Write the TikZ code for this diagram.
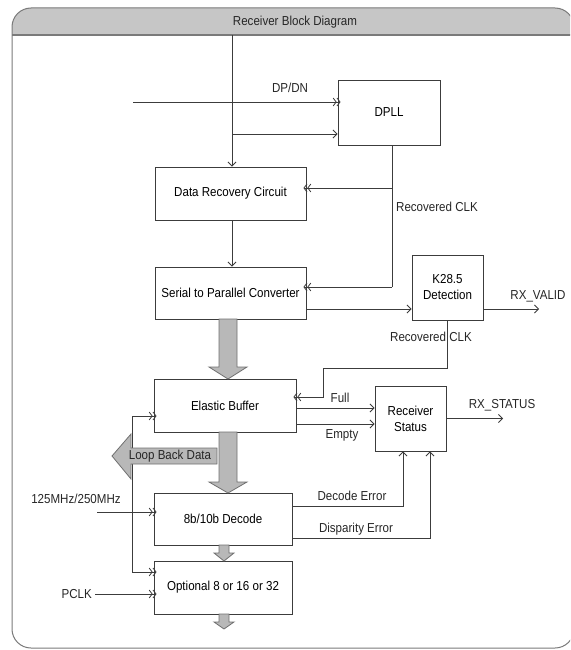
\documentclass[tikz,border=0pt]{standalone}
\usepackage{fontspec}
\setmainfont{Liberation Sans}[FakeStretch=0.89]
\usetikzlibrary{arrows.meta}

\definecolor{linegray}{HTML}{3C3C3C}
\definecolor{fatfill}{HTML}{B8B8B8}
\definecolor{fatline}{HTML}{707070}
\definecolor{hdrfill}{HTML}{C6C6C6}
\definecolor{framegray}{HTML}{7A7A7A}

\tikzset{
  blk/.style={draw=linegray, line width=0.9pt, fill=white, inner sep=0pt,
    align=center, font=\fontsize{13}{16}\selectfont},
  lbl/.style={inner sep=0pt, text=black!85, font=\fontsize{13}{16}\selectfont},
  wire/.style={draw=linegray, line width=0.8pt},
  sarrow/.style={-{Straight Barb[length=4pt,width=8pt]}},
  darrow/.style={-{Straight Barb[length=3pt,width=8pt] Straight Barb[length=3pt,width=8pt]},
    shorten >=-3pt},
  fat/.style={fill=fatfill, draw=fatline, line width=0.8pt},
}

% grey block arrow pointing down: x, top, head base, tip, half shaft, half head
\newcommand{\fatdown}[6]{%
  \draw[fat] ({#1-#5},#2) -- ({#1+#5},#2) -- ({#1+#5},#3) -- ({#1+#6},#3)
    -- (#1,#4) -- ({#1-#6},#3) -- ({#1-#5},#3) -- cycle;}

\begin{document}
\begin{tikzpicture}[x=1pt, y=-1pt]
  \clip (0,0) rectangle (570,650);

  % frame and header
  \fill[hdrfill] (12,35) [rounded corners=19pt] -- (12,8) -- (574,8)
    [sharp corners] -- (574,35) -- cycle;
  \draw[framegray, line width=1pt, rounded corners=19pt] (12,8) rectangle (574,648);
  \draw[framegray, line width=1.2pt] (12,35) -- (574,35);
  \node[lbl] (title) at (295,22) {Receiver Block Diagram};

  % blocks
  \node[blk, minimum width=102pt, minimum height=65pt] (dpll) at (389,112.5) {DPLL};
  \node[blk, minimum width=151pt, minimum height=53pt] (drc) at (230.5,193.5) {Data Recovery Circuit};
  \node[blk, minimum width=151pt, minimum height=52pt] (spc) at (230.5,293) {Serial to Parallel Converter};
  \node[blk, minimum width=71pt, minimum height=65pt] (k28) at (447.5,287.5) {K28.5\\Detection};
  \node[blk, minimum width=142pt, minimum height=53pt] (eb) at (225,405.5) {Elastic Buffer};
  \node[blk, minimum width=71pt, minimum height=65pt] (rs) at (410.5,418.5) {Receiver\\Status};
  \node[blk, minimum width=138pt, minimum height=52pt] (dec) at (223,519) {8b/10b Decode};
  \node[blk, minimum width=138pt, minimum height=53pt] (opt) at (223,587.5) {Optional 8 or 16 or 32};

  % input and DPLL
  \coordinate (topin) at (232,35);
  \draw[wire, sarrow] (topin) -- (topin |- drc.north);
  \coordinate (dpin) at (133,102);
  \draw[wire, darrow] (dpin) -- (dpin -| dpll.west);
  \node[lbl] (dpdn) at (290,88) {DP/DN};
  \coordinate (tap) at (232,134);
  \draw[wire, sarrow] (tap) -- (tap -| dpll.west);

  % recovered clock
  \coordinate (rc1) at (392,188);
  \coordinate (spcin) at ([yshift=6pt]spc.east);
  \draw[wire] (dpll.south -| rc1) -- (rc1 |- spcin);
  \draw[wire, darrow] (rc1) -- (rc1 -| drc.east);
  \draw[wire, darrow] (rc1 |- spcin) -- (spcin);
  \node[lbl] (rclka) at (437,207) {Recovered CLK};
  \draw[wire, sarrow] (drc.south -| topin) -- (spc.north -| topin);

  % K28.5
  \coordinate (kin) at ([yshift=-16pt]spc.east);
  \draw[wire, sarrow] (kin) -- (kin -| k28.west);
  \coordinate (rxv) at (539,309);
  \draw[wire, sarrow] (rxv -| k28.east) -- (rxv);
  \node[lbl] (rxvalid) at (538,296) {RX\_VALID};
  \coordinate (bend) at (323,368);
  \coordinate (ebclk) at ([yshift=8.5pt]eb.east);
  \draw[wire, darrow] (k28.south) |- (bend) |- (ebclk);
  \node[lbl] (rclkb) at (431,337) {Recovered CLK};

  % status
  \coordinate (full) at ([yshift=-2.5pt]eb.east);
  \draw[wire, sarrow] (full) -- (full -| rs.west);
  \node[lbl] (fulll) at (340,398) {Full};
  \coordinate (empty) at ([yshift=-18.5pt]eb.east);
  \draw[wire, sarrow] (empty) -- (empty -| rs.west);
  \node[lbl] (emptyl) at (342,435) {Empty};
  \coordinate (rxs) at (503,418.5);
  \draw[wire, sarrow] (rs.east) -- (rxs);
  \node[lbl] (rxstatus) at (502,405) {RX\_STATUS};
  \coordinate (decerr) at (403,506);
  \draw[wire, sarrow] (decerr -| dec.east) -| (rs.south -| decerr);
  \node[lbl] (decl) at (352,496) {Decode Error};
  \coordinate (diserr) at (430,538);
  \draw[wire, sarrow] (diserr -| dec.east) -| (rs.south -| diserr);
  \node[lbl] (disl) at (356,529) {Disparity Error};

  % loop back and clocks
  \coordinate (lpx) at (132,416);
  \draw[wire, darrow] (lpx) -- (lpx -| eb.west);
  \coordinate (optlp) at ([yshift=15.5pt]opt.west);
  \draw[wire, darrow] (lpx) |- (optlp);
  \coordinate (clkin) at (97,512);
  \draw[wire, darrow] (clkin) -- (clkin -| dec.west);
  \node[lbl] (clkl) at (76,499) {125MHz/250MHz};
  \node[lbl, anchor=east] (pclk) at (92,594) {PCLK};
  \draw[wire, darrow] ([xshift=3pt]pclk.east) -- (pclk.east -| opt.west);

  % data path
  \fatdown{228}{319}{367}{379}{9}{19}
  \fatdown{228}{432}{482}{493}{9}{19}
  \fatdown{224}{545}{553}{561}{5}{10}
  \fatdown{224}{614}{622}{629}{5}{10}
  \draw[fat] (112,456) -- (131,434) -- (131,448) -- (217,448) -- (217,464)
    -- (131,464) -- (131,479) -- cycle;
  \node[lbl] (loopl) at (170,456) {Loop Back Data};
\end{tikzpicture}
\end{document}
